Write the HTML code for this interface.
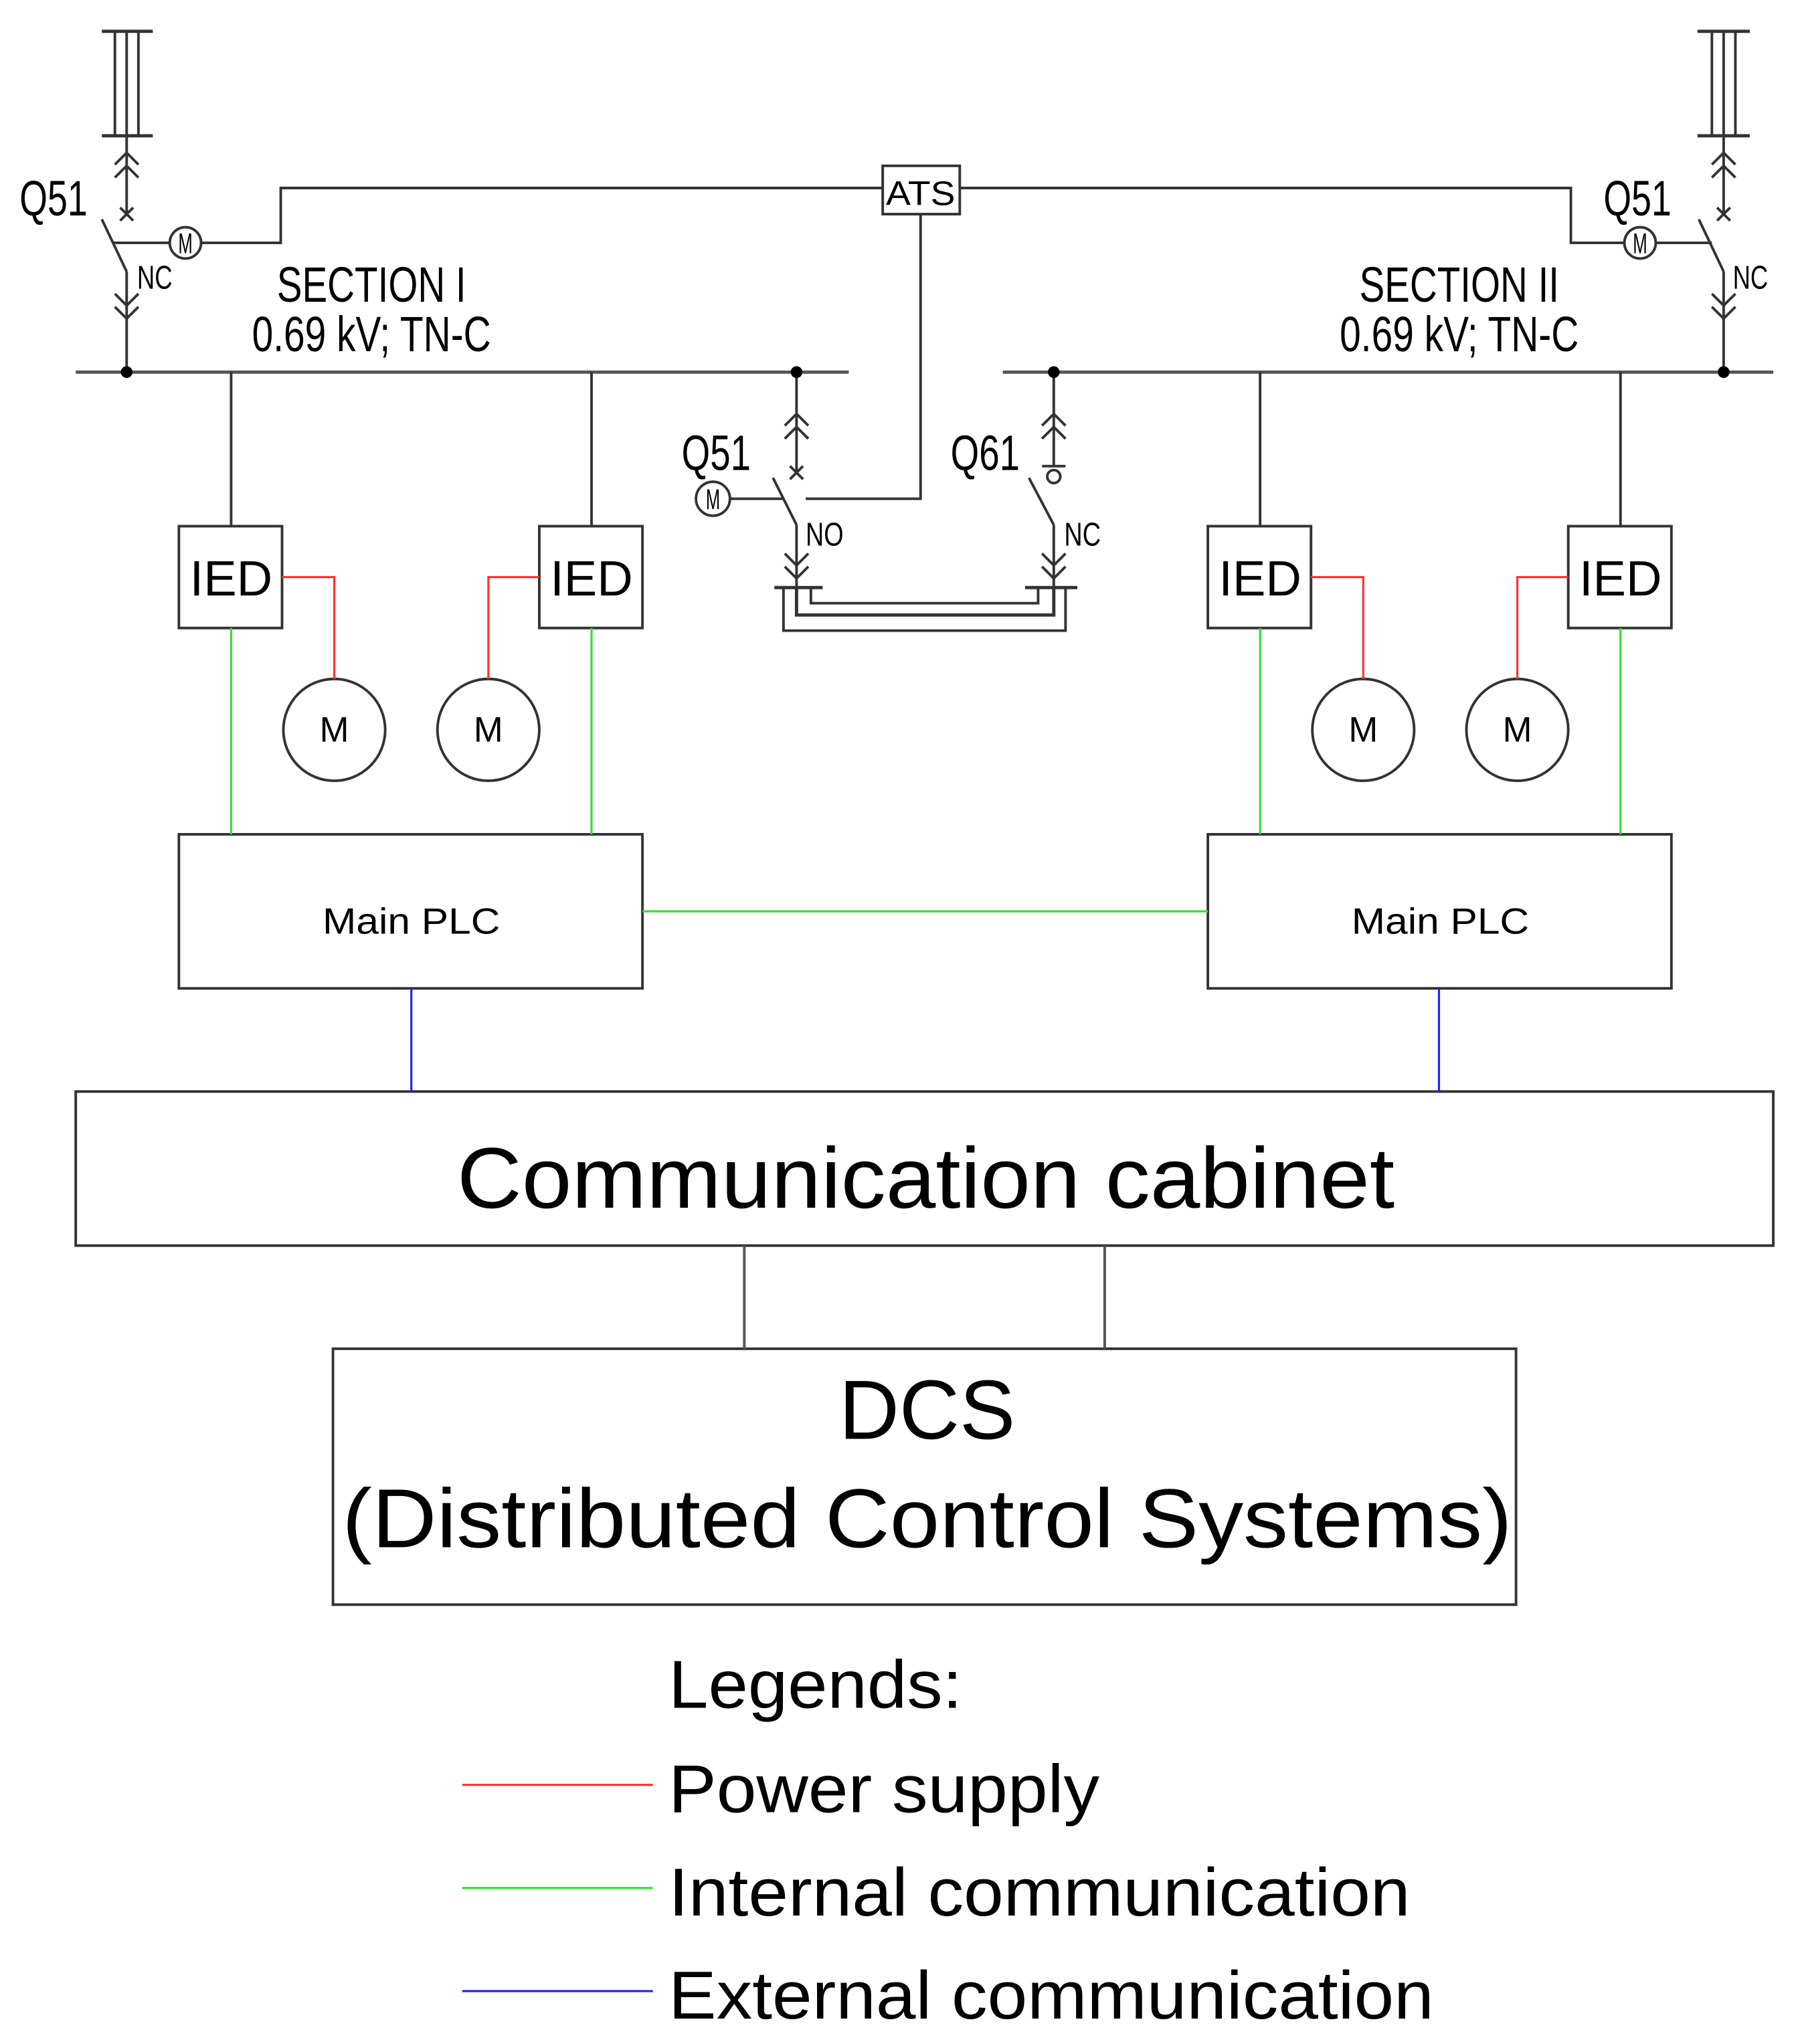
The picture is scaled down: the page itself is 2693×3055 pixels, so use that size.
<!DOCTYPE html>
<html><head><meta charset="utf-8"><style>
html,body{margin:0;padding:0;background:#fff;}
svg{display:block;}
text{font-family:"Liberation Sans",sans-serif;fill:#000;}
</style></head><body>
<svg width="2693" height="3055" viewBox="0 0 1380 1565.5" xmlns="http://www.w3.org/2000/svg">
<g fill="none" stroke="#333" stroke-width="2">
<line x1="78" y1="24" x2="117" y2="24" stroke-width="2.5"/>
<line x1="78" y1="104" x2="117" y2="104" stroke-width="2.5"/>
<line x1="88" y1="24" x2="88" y2="104"/><line x1="97" y1="24" x2="97" y2="104"/><line x1="106" y1="24" x2="106" y2="104"/>
<line x1="97" y1="104" x2="97" y2="165"/>
<path d="M88 126 L97 117 L106 126 M88 136 L97 127 L106 136"/>
<path d="M92 159 L102 169 M102 159 L92 169"/>
<line x1="78" y1="168" x2="97" y2="208"/>
<line x1="86" y1="186" x2="130" y2="186"/>
<circle cx="142" cy="186" r="12"/>
<path d="M154 186 H215 V144 H676"/>
<line x1="97" y1="208" x2="97" y2="285"/>
<path d="M88 225 L97 234 L106 225 M88 235 L97 244 L106 235"/>
<line x1="1300" y1="24" x2="1340" y2="24" stroke-width="2.5"/>
<line x1="1300" y1="104" x2="1340" y2="104" stroke-width="2.5"/>
<line x1="1311" y1="24" x2="1311" y2="104"/><line x1="1320" y1="24" x2="1320" y2="104"/><line x1="1329" y1="24" x2="1329" y2="104"/>
<line x1="1320" y1="104" x2="1320" y2="165"/>
<path d="M1311 126 L1320 117 L1329 126 M1311 136 L1320 127 L1329 136"/>
<path d="M1315 159 L1325 169 M1325 159 L1315 169"/>
<line x1="1301" y1="168" x2="1320" y2="208"/>
<line x1="1268" y1="186" x2="1311" y2="186"/>
<circle cx="1256" cy="186" r="12"/>
<path d="M1244 186 H1203 V144 H735"/>
<line x1="1320" y1="208" x2="1320" y2="285"/>
<path d="M1311 225 L1320 234 L1329 225 M1311 235 L1320 244 L1329 235"/>
<rect x="676" y="127" width="59" height="37"/>
<path d="M705 164 V382 H617"/>
<line x1="58" y1="285" x2="650" y2="285" stroke-width="2.5" stroke="#555"/>
<line x1="768" y1="285" x2="1358" y2="285" stroke-width="2.5" stroke="#555"/>
<line x1="610" y1="285" x2="610" y2="362"/>
<path d="M601 326 L610 317 L619 326 M601 336 L610 327 L619 336"/>
<path d="M605 357 L615 367 M615 357 L605 367"/>
<line x1="592" y1="366" x2="610" y2="402"/>
<line x1="559" y1="382" x2="600" y2="382"/>
<circle cx="546" cy="382" r="13"/>
<line x1="610" y1="402" x2="610" y2="450"/>
<path d="M601 424 L610 433 L619 424 M601 434 L610 443 L619 434"/>
<line x1="593" y1="450" x2="630" y2="450" stroke-width="2.5"/>
<line x1="807" y1="285" x2="807" y2="357"/>
<path d="M798 326 L807 317 L816 326 M798 336 L807 327 L816 336"/>
<line x1="798" y1="357" x2="816" y2="357"/>
<circle cx="807" cy="365" r="5"/>
<line x1="788" y1="366" x2="807" y2="402"/>
<line x1="807" y1="402" x2="807" y2="450"/>
<path d="M798 424 L807 433 L816 424 M798 434 L807 443 L816 434"/>
<line x1="785" y1="450" x2="825" y2="450" stroke-width="2.5"/>
<path d="M600 450 V483 H816 V450"/>
<path d="M610 450 V471 H807 V450" stroke-width="2.5"/>
<path d="M621 450 V462 H795 V450"/>
<line x1="177" y1="285" x2="177" y2="403"/>
<line x1="453" y1="285" x2="453" y2="403"/>
<line x1="965" y1="285" x2="965" y2="403"/>
<line x1="1241" y1="285" x2="1241" y2="403"/>
<rect x="137" y="403" width="79" height="78"/>
<rect x="413" y="403" width="79" height="78"/>
<rect x="925" y="403" width="79" height="78"/>
<rect x="1201" y="403" width="79" height="78"/>
<circle cx="256" cy="559" r="39"/>
<circle cx="374" cy="559" r="39"/>
<circle cx="1044" cy="559" r="39"/>
<circle cx="1162" cy="559" r="39"/>
<rect x="137" y="639" width="355" height="118"/>
<rect x="925" y="639" width="355" height="118"/>
<rect x="58" y="836" width="1300" height="118"/>
<rect x="255" y="1033" width="906" height="196"/>
<line x1="570" y1="954" x2="570" y2="1033" stroke="#555"/>
<line x1="846" y1="954" x2="846" y2="1033" stroke="#555"/>
</g>
<g fill="none" stroke="#ff3030" stroke-width="1.6">
<path d="M216 442 H256 V520"/><path d="M413 442 H374 V520"/>
<path d="M1004 442 H1044 V520"/><path d="M1201 442 H1162 V520"/>
<line x1="354" y1="1367" x2="500" y2="1367"/>
</g>
<g fill="none" stroke="#30e030" stroke-width="1.6">
<line x1="177" y1="481" x2="177" y2="639"/><line x1="453" y1="481" x2="453" y2="639"/>
<line x1="965" y1="481" x2="965" y2="639"/><line x1="1241" y1="481" x2="1241" y2="639"/>
<line x1="492" y1="698" x2="925" y2="698"/>
<line x1="354" y1="1446" x2="500" y2="1446"/>
</g>
<g fill="none" stroke="#2020ff" stroke-width="1.6">
<line x1="315" y1="757" x2="315" y2="836"/><line x1="1102" y1="757" x2="1102" y2="836"/>
<line x1="354" y1="1525" x2="500" y2="1525"/>
</g>
<g fill="#000">
<circle cx="97" cy="285" r="4.5"/><circle cx="610" cy="285" r="4.5"/>
<circle cx="807" cy="285" r="4.5"/><circle cx="1320" cy="285" r="4.5"/>
</g>
<text x="15" y="165" font-size="38" textLength="52" lengthAdjust="spacingAndGlyphs" fill="#333">Q51</text>
<text x="1228" y="165" font-size="38" textLength="52" lengthAdjust="spacingAndGlyphs" fill="#333">Q51</text>
<text x="522" y="360" font-size="38" textLength="53" lengthAdjust="spacingAndGlyphs" fill="#333">Q51</text>
<text x="728" y="360" font-size="38" textLength="53" lengthAdjust="spacingAndGlyphs" fill="#333">Q61</text>
<text x="105" y="221" font-size="25" textLength="27" lengthAdjust="spacingAndGlyphs">NC</text>
<text x="1327" y="221" font-size="25" textLength="27" lengthAdjust="spacingAndGlyphs">NC</text>
<text x="617" y="418" font-size="25" textLength="29" lengthAdjust="spacingAndGlyphs">NO</text>
<text x="815" y="418" font-size="25" textLength="28" lengthAdjust="spacingAndGlyphs">NC</text>
<text x="136.5" y="194" font-size="22" textLength="11" lengthAdjust="spacingAndGlyphs">M</text>
<text x="1250.5" y="194" font-size="22" textLength="11" lengthAdjust="spacingAndGlyphs">M</text>
<text x="540.5" y="390" font-size="22" textLength="11" lengthAdjust="spacingAndGlyphs">M</text>
<text x="212" y="231" font-size="38" textLength="145" lengthAdjust="spacingAndGlyphs">SECTION I</text>
<text x="193" y="269" font-size="38" textLength="183" lengthAdjust="spacingAndGlyphs">0.69 kV; TN-C</text>
<text x="1041" y="231" font-size="38" textLength="153" lengthAdjust="spacingAndGlyphs">SECTION II</text>
<text x="1026" y="269" font-size="38" textLength="183" lengthAdjust="spacingAndGlyphs">0.69 kV; TN-C</text>
<text x="705" y="157" font-size="26" text-anchor="middle" textLength="53" lengthAdjust="spacingAndGlyphs">ATS</text>
<g font-size="38" text-anchor="middle">
<text x="177" y="456">IED</text><text x="453" y="456">IED</text>
<text x="965" y="456">IED</text><text x="1241" y="456">IED</text>
</g>
<g font-size="27" text-anchor="middle">
<text x="256" y="568">M</text><text x="374" y="568">M</text>
<text x="1044" y="568">M</text><text x="1162" y="568">M</text>
</g>
<text x="247" y="715" font-size="28" textLength="136" lengthAdjust="spacingAndGlyphs">Main PLC</text>
<text x="1035" y="715" font-size="28" textLength="136" lengthAdjust="spacingAndGlyphs">Main PLC</text>
<text x="709" y="925" font-size="66" text-anchor="middle" textLength="718" lengthAdjust="spacingAndGlyphs">Communication cabinet</text>
<text x="710" y="1102" font-size="64" text-anchor="middle">DCS</text>
<text x="710" y="1185" font-size="64" text-anchor="middle" textLength="896" lengthAdjust="spacingAndGlyphs">(Distributed Control Systems)</text>
<g font-size="52">
<text x="512" y="1308" textLength="225" lengthAdjust="spacingAndGlyphs">Legends:</text>
<text x="512" y="1388" textLength="330" lengthAdjust="spacingAndGlyphs">Power supply</text>
<text x="512" y="1467" textLength="568" lengthAdjust="spacingAndGlyphs">Internal communication</text>
<text x="512" y="1546" textLength="586" lengthAdjust="spacingAndGlyphs">External communication</text>
</g>
</svg>
</body></html>
